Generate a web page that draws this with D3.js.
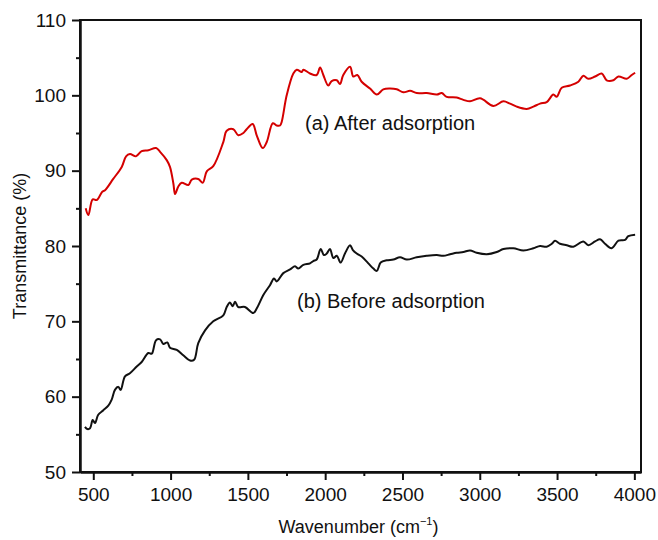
<!DOCTYPE html>
<html>
<head>
<meta charset="utf-8">
<script src="https://cdn.jsdelivr.net/npm/d3@7"></script>
<style>
  body { margin: 0; background: #fff; }
  text { font-family: "Liberation Sans", Arial, sans-serif; fill: #111; }
</style>
</head>
<body>
<svg id="chart" width="658" height="540"></svg>
<script>
// Wavenumber (cm-1) and transmittance (%)
const afterWn = [451, 468, 496, 522, 558, 576, 629, 684, 712, 737, 776, 813, 856, 906, 932, 975, 996, 1018, 1029, 1050,
  1072, 1115, 1137, 1179, 1208, 1234, 1276, 1341, 1363, 1406, 1438, 1471, 1492, 1531, 1557, 1596, 1622, 1661, 1686, 1708,
  1719, 1751, 1794, 1816, 1848, 1859, 1902, 1945, 1967, 1988, 2020, 2042, 2075, 2096, 2117, 2161, 2182, 2208, 2236, 2290,
  2334, 2376, 2420, 2463, 2506, 2549, 2592, 2657, 2722, 2754, 2786, 2851, 2894, 2937, 3002, 3088, 3153, 3196, 3239, 3304,
  3347, 3390, 3433, 3476, 3498, 3530, 3584, 3638, 3670, 3702, 3746, 3789, 3821, 3864, 3897, 3951, 3983, 4005];
const afterT = [85.0, 84.1, 86.2, 86.1, 87.2, 87.4, 88.9, 90.5, 91.9, 92.2, 91.9, 92.6, 92.7, 93.0, 92.5, 91.4, 90.5, 88.3, 86.9, 87.9,
  88.4, 88.1, 88.8, 88.9, 88.4, 89.9, 90.6, 93.8, 95.3, 95.5, 94.7, 95.0, 95.5, 96.2, 94.7, 93.0, 93.8, 96.3, 96.0, 96.0,
  96.5, 100.0, 102.9, 103.4, 103.1, 103.4, 102.9, 102.7, 103.7, 102.7, 101.3, 101.9, 102.0, 101.5, 102.7, 103.8, 102.5, 102.7, 101.8, 100.9,
  100.1, 100.8, 100.9, 100.8, 100.4, 100.6, 100.3, 100.3, 100.1, 100.3, 99.8, 99.7, 99.4, 99.2, 99.6, 98.6, 99.2, 98.9, 98.5, 98.2,
  98.5, 98.9, 99.1, 100.1, 99.8, 101.0, 101.3, 101.8, 102.6, 102.2, 102.5, 102.9, 102.0, 102.0, 102.5, 102.2, 102.7, 103.0];

const beforeWn = [446, 461, 479, 496, 511, 532, 565, 597, 619, 640, 662, 677, 705, 737, 781, 813, 856, 878, 906, 932,
  953, 979, 996, 1040, 1082, 1126, 1152, 1179, 1223, 1276, 1341, 1363, 1384, 1402, 1417, 1438, 1481, 1535, 1557, 1600,
  1643, 1669, 1686, 1729, 1773, 1805, 1826, 1859, 1902, 1923, 1945, 1971, 1992, 2010, 2031, 2053, 2075, 2100, 2128, 2161,
  2178, 2204, 2236, 2279, 2312, 2334, 2359, 2398, 2441, 2484, 2528, 2592, 2657, 2722, 2764, 2808, 2851, 2894, 2937, 2980,
  3045, 3110, 3153, 3217, 3282, 3347, 3390, 3433, 3466, 3487, 3519, 3563, 3605, 3670, 3702, 3746, 3778, 3810, 3853, 3897,
  3940, 3961, 4005];
const beforeT = [56.0, 55.7, 55.8, 56.9, 56.5, 57.6, 58.2, 58.8, 59.6, 60.9, 61.3, 60.9, 62.7, 63.1, 64.0, 64.6, 65.8, 65.7, 67.5, 67.6,
  67.0, 67.2, 66.5, 66.2, 65.5, 64.8, 64.9, 67.1, 68.8, 70.0, 70.8, 71.9, 72.5, 72.0, 72.6, 71.9, 71.9, 71.1, 71.7, 73.5,
  74.8, 75.7, 75.3, 76.4, 76.9, 77.3, 77.0, 77.5, 77.7, 78.0, 78.2, 79.6, 78.8, 79.0, 79.6, 78.4, 78.7, 77.8, 79.0, 80.1,
  79.5, 79.0, 78.6, 77.7, 77.0, 76.7, 77.8, 78.1, 78.2, 78.5, 78.2, 78.5, 78.7, 78.8, 78.7, 78.9, 79.1, 79.2, 79.4, 79.1,
  78.9, 79.2, 79.6, 79.7, 79.4, 79.7, 80.0, 79.9, 80.3, 80.7, 80.3, 80.1, 79.9, 80.6, 80.1, 80.6, 80.9, 80.3, 79.7, 80.7,
  80.8, 81.3, 81.5];

const xTicks = [500, 1000, 1500, 2000, 2500, 3000, 3500, 4000];
const xMinor = [750, 1250, 1750, 2250, 2750, 3250, 3750];
const yTicks = [50, 60, 70, 80, 90, 100, 110];
const yMinor = [55, 65, 75, 85, 95, 105];

const margin = { top: 20, right: 17, bottom: 68, left: 80 };
const width = 658 - margin.left - margin.right;
const height = 540 - margin.top - margin.bottom;

const svg = d3.select("#chart")
  .append("g")
  .attr("transform", `translate(${margin.left},${margin.top})`);

const x = d3.scaleLinear().domain([414, 4043]).range([0, width]);
const y = d3.scaleLinear().domain([50, 110]).range([height, 0]);

// frame (top and right sides)
svg.append("rect")
  .attr("width", width)
  .attr("height", height)
  .attr("fill", "none")
  .attr("stroke", "#111")
  .attr("stroke-width", 2);

// axes
svg.append("g")
  .attr("transform", `translate(0,${height})`)
  .call(d3.axisBottom(x).tickValues(xTicks).tickSize(8).tickPadding(8).tickSizeOuter(0).tickFormat(d3.format("d")));
svg.append("g")
  .attr("transform", `translate(0,${height})`)
  .call(d3.axisBottom(x).tickValues(xMinor).tickSize(4).tickFormat("").tickSizeOuter(0));

svg.append("g")
  .call(d3.axisLeft(y).tickValues(yTicks).tickSize(8).tickPadding(6).tickSizeOuter(0).tickFormat(d3.format("d")));
svg.append("g")
  .call(d3.axisLeft(y).tickValues(yMinor).tickSize(4).tickFormat("").tickSizeOuter(0));

svg.selectAll(".domain").attr("stroke", "#111").attr("stroke-width", 2);
svg.selectAll(".tick line").attr("stroke", "#111").attr("stroke-width", 2);
svg.selectAll(".tick text")
  .attr("fill", "#111")
  .style("font-size", "19px")
  .style("font-family", "'Liberation Sans', Arial, sans-serif");

// lines
const line = d3.line()
  .x(d => x(d[0]))
  .y(d => y(d[1]))
  .curve(d3.curveCatmullRom.alpha(0.5));

svg.append("path")
  .datum(afterWn.map((w, i) => [w, afterT[i]]))
  .attr("fill", "none")
  .attr("stroke", "#d40000")
  .attr("stroke-width", 2)
  .attr("stroke-linejoin", "round")
  .attr("d", line);

svg.append("path")
  .datum(beforeWn.map((w, i) => [w, beforeT[i]]))
  .attr("fill", "none")
  .attr("stroke", "#111")
  .attr("stroke-width", 2)
  .attr("stroke-linejoin", "round")
  .attr("d", line);

// annotations
svg.append("text")
  .attr("x", x(1870))
  .attr("y", y(95.4))
  .style("font-size", "20px")
  .text("(a) After adsorption");

svg.append("text")
  .attr("x", x(1818))
  .attr("y", y(71.8))
  .style("font-size", "20px")
  .text("(b) Before adsorption");

// axis titles
const xt = svg.append("text")
  .attr("x", width / 2 - 2)
  .attr("y", height + 61)
  .attr("text-anchor", "middle")
  .style("font-size", "18px");
xt.append("tspan").text("Wavenumber (cm");
xt.append("tspan").attr("dy", -8).style("font-size", "11px").text("\u22121");
xt.append("tspan").attr("dy", 8).text(")");

svg.append("text")
  .attr("transform", "rotate(-90)")
  .attr("x", -height / 2)
  .attr("y", -54)
  .attr("text-anchor", "middle")
  .style("font-size", "18px")
  .text("Transmittance (%)");
</script>
</body>
</html>
